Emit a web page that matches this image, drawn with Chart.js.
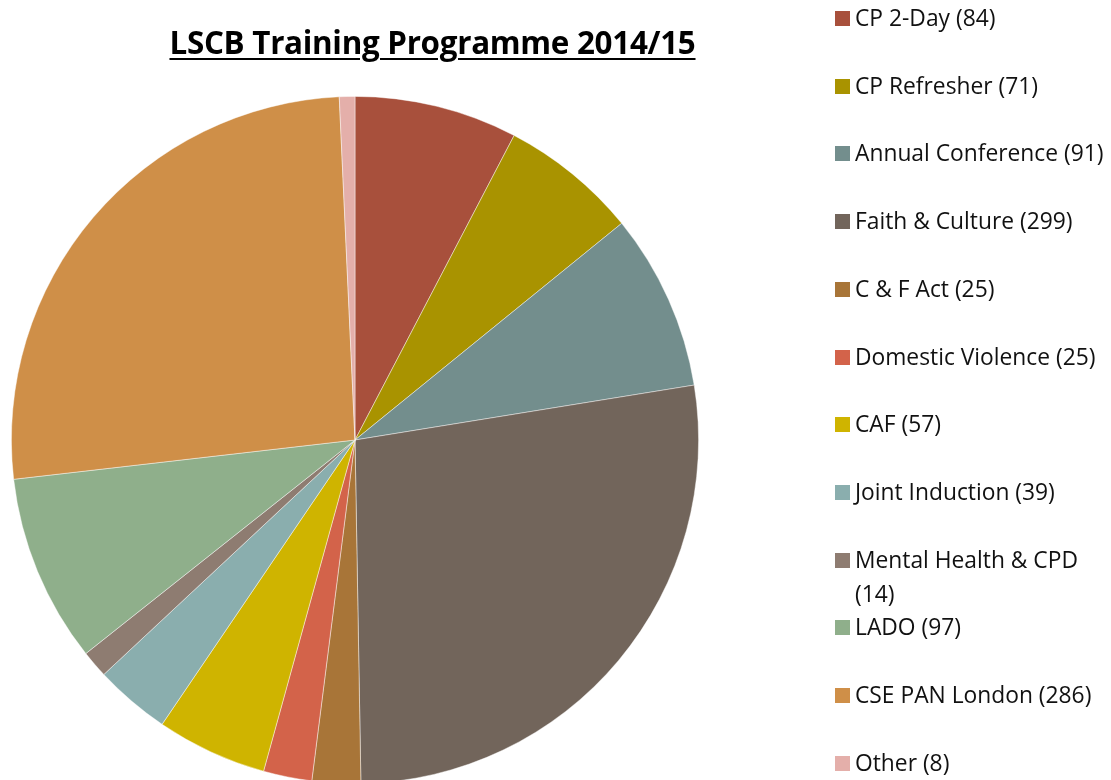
<!DOCTYPE html>
<html>
<head>
<meta charset="utf-8">
<title>LSCB Training Programme 2014/15</title>
<script src="https://cdn.jsdelivr.net/npm/chart.js@4/dist/chart.umd.min.js"></script>
<style>
  html, body { margin: 0; padding: 0; background: #fff; overflow: hidden; }
  #wrap { position: relative; width: 1111px; height: 780px; overflow: hidden; }
  #pie { position: absolute; left: 0; top: 0; }
  #title {
    position: absolute; left: 0; top: 21px; width: 865px; text-align: center;
    font-family: "Open Sans", "Noto Sans", sans-serif; font-weight: 700; font-size: 31.4px;
    color: #000; text-decoration: underline; text-decoration-thickness: 2px;
    text-underline-offset: 4px; line-height: 42px; letter-spacing: -0.3px;
  }
  #legend { position: absolute; left: 835px; top: 0; width: 276px; }
  .item { position: absolute; left: 0; width: 276px; display: flex; align-items: flex-start; }
  .box { width: 15px; height: 15px; margin-top: 10px; flex: none; }
  .lbl {
    margin-left: 5px; width: 254px;
    font-family: "Open Sans", "Noto Sans", sans-serif; font-size: 22.8px; line-height: 34px;
    color: #111;
  }
</style>
</head>
<body>
<div id="wrap">
  <canvas id="pie" width="1111" height="800"></canvas>
  <div id="title">LSCB Training Programme 2014/15</div>
  <div id="legend"></div>
</div>
<script>
// Attendance per course, 2014/15
const courses = [
  "CP 2-Day", "CP Refresher", "Annual Conference", "Faith & Culture",
  "C & F Act", "Domestic Violence", "CAF", "Joint Induction",
  "Mental Health & CPD", "LADO", "CSE PAN London", "Other"
];
const attendees = [84, 71, 91, 299, 25, 25, 57, 39, 14, 97, 286, 8];
const sliceColours = [
  "#A8503C", "#A99300", "#738E8D", "#72655B",
  "#A87538", "#D3634A", "#CFB400", "#8AAEAE",
  "#8E7C71", "#8FAF8B", "#CF8F48", "#E4AFAA"
];

const legendLabels = courses.map((c, i) => c + " (" + attendees[i] + ")");

const chart = new Chart(document.getElementById("pie"), {
  type: "pie",
  data: {
    labels: legendLabels,
    datasets: [{
      data: attendees,
      backgroundColor: sliceColours,
      borderColor: "rgba(255,255,255,0.55)",
      borderWidth: 0.8,
      hoverOffset: 0
    }]
  },
  options: {
    responsive: false,
    animation: false,
    events: [],
    layout: { padding: { left: 11, right: 412, top: 96, bottom: 16 } },
    plugins: {
      legend: { display: false },
      title: { display: false },
      tooltip: { enabled: false }
    }
  }
});

// Legend list on the right, one slot per course
const legendEl = document.getElementById("legend");
const items = Chart.overrides.pie.plugins.legend.labels.generateLabels(chart);
const rowStep = 67.7;
items.forEach((it, i) => {
  const row = document.createElement("div");
  row.className = "item";
  row.style.top = (1 + i * rowStep) + "px";
  const box = document.createElement("div");
  box.className = "box";
  box.style.background = it.fillStyle;
  const lbl = document.createElement("div");
  lbl.className = "lbl";
  lbl.textContent = it.text;
  row.appendChild(box);
  row.appendChild(lbl);
  legendEl.appendChild(row);
});
</script>
</body>
</html>
